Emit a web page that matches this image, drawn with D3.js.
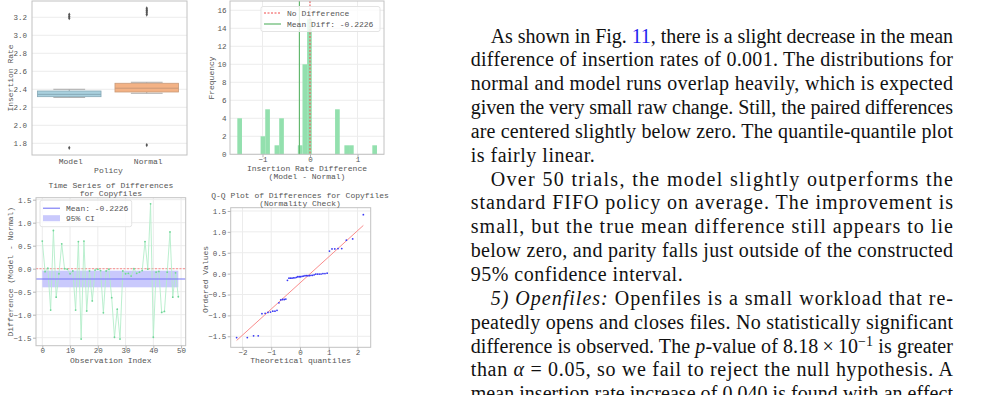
<!DOCTYPE html>
<html>
<head>
<meta charset="utf-8">
<script src="https://cdn.jsdelivr.net/npm/d3@7"></script>
<style>
  body { margin: 0; background: #fff; }
  svg { display: block; }
</style>
</head>
<body>
<div id="page"></div>
<script>
// box plot summary (insertion rate per policy)
var policies = ["Model", "Normal"];
var boxQ1 = [2.318, 2.370];
var boxMedian = [2.344, 2.412];
var boxQ3 = [2.381, 2.467];
var whiskerLow = [2.310, 2.356];
var whiskerHigh = [2.400, 2.478];
var outliers = [[3.19, 3.21, 3.23, 1.75], [3.23, 3.25, 3.27, 3.28, 3.30, 1.78]];

// paired differences (Model - Normal), one per trial
var diffs = [0.60, -0.065, 0.01, -0.90, 0.83, -0.62, -0.11, 0.54, 0.00, -0.01,
             -0.11, -0.05, -0.90, 0.59, -1.53, 0.60, -0.92, -0.05, -0.70, -0.03,
             -0.01, -0.04, -0.96, -0.05, -0.01, -0.63, -1.49, -0.88, -1.53, -0.05,
             -0.11, -0.10, -0.16, 0.00, -0.10, -0.075, -0.04, 0.59, -0.01, 1.41,
             -1.49, -0.075, -0.06, -0.95, -0.93, -0.075, 0.80, -0.62, -0.09, -0.61];
var meanDiff = -0.2226;
var ciLow = -0.405, ciHigh = -0.043;
var histBins = 30;

var boxTicks = [1.8, 2.0, 2.2, 2.4, 2.6, 2.8, 3.0, 3.2];
var histXTicks = [-1, 0, 1];
var histYTicks = [0, 2, 4, 6, 8, 10, 12, 14, 16];
var tsXTicks = [0, 10, 20, 30, 40, 50];
var diffTicks = [-1.5, -1.0, -0.5, 0.0, 0.5, 1.0, 1.5];
var qqXTicks = [-2, -1, 0, 1, 2];

var mono = "'Liberation Mono', 'Courier New', monospace";
var fs = 8, tickFs = 7.5;
var green = "#93e0ae";

var svg = d3.select("#page").append("svg")
    .attr("width", 982)
    .attr("height", 395);

function panel(left, top) {
    return svg.append("g").attr("transform", "translate(" + left + "," + top + ")");
}

function styleAxis(sel) {
    sel.select(".domain").remove();
    sel.selectAll(".tick line").attr("stroke", "#b5b5b5");
    sel.selectAll(".tick text")
       .attr("font-family", mono)
       .attr("font-size", tickFs)
       .attr("fill", "#555");
}

function grid(g, x, y, w, h, xTicks, yTicks) {
    g.selectAll(".gy").data(yTicks).enter().append("line")
        .attr("x1", 0).attr("x2", w)
        .attr("y1", function(d) { return y(d); })
        .attr("y2", function(d) { return y(d); })
        .attr("stroke", "#ececec");
    if (xTicks) {
        g.selectAll(".gx").data(xTicks).enter().append("line")
            .attr("y1", 0).attr("y2", h)
            .attr("x1", function(d) { return x(d); })
            .attr("x2", function(d) { return x(d); })
            .attr("stroke", "#ececec");
    }
}

function axes(g, w, h, xAxis, yAxis) {
    g.append("rect")
        .attr("width", w).attr("height", h)
        .attr("fill", "none")
        .attr("stroke", "#c2c2c2");
    g.append("g").attr("transform", "translate(0," + h + ")")
        .call(xAxis).call(styleAxis)
        .selectAll(".tick text").attr("dy", "0.58em");
    g.append("g").call(yAxis).call(styleAxis);
}

function label(g, txt, x, y, rotate) {
    var t = g.append("text")
        .attr("font-family", mono)
        .attr("font-size", fs)
        .attr("fill", "#555")
        .attr("text-anchor", "middle")
        .text(txt);
    if (rotate) {
        t.attr("transform", "translate(" + x + "," + y + ") rotate(-90)");
    } else {
        t.attr("x", x).attr("y", y);
    }
    return t;
}

var fmt1 = d3.format(".1f");

// ---------- box plot ----------
var bw = 155, bh = 154;
var g1 = panel(32, 1);
var xBox = d3.scaleBand().domain(policies).range([0, bw]);
var yBox = d3.scaleLinear().domain([1.670, 3.381]).range([bh, 0]);
var boxFill = ["#a9d0de", "#f3b285"];
var boxEdge = ["#86a9b6", "#c99a78"];

grid(g1, null, yBox, bw, bh, null, boxTicks);

policies.forEach(function(p, i) {
    var cx = xBox(p) + xBox.bandwidth() / 2 - 1.5;
    var half = xBox.bandwidth() * 0.41;
    g1.append("line")
        .attr("x1", cx).attr("x2", cx)
        .attr("y1", yBox(boxQ3[i])).attr("y2", yBox(whiskerHigh[i]))
        .attr("stroke", "#aaa");
    g1.append("line")
        .attr("x1", cx).attr("x2", cx)
        .attr("y1", yBox(boxQ1[i])).attr("y2", yBox(whiskerLow[i]))
        .attr("stroke", "#aaa");
    [whiskerHigh[i], whiskerLow[i]].forEach(function(v) {
        g1.append("line")
            .attr("x1", cx - half / 2).attr("x2", cx + half / 2)
            .attr("y1", yBox(v)).attr("y2", yBox(v))
            .attr("stroke", "#aaa");
    });
    g1.append("rect")
        .attr("x", cx - half)
        .attr("y", yBox(boxQ3[i]))
        .attr("width", half * 2)
        .attr("height", yBox(boxQ1[i]) - yBox(boxQ3[i]))
        .attr("fill", boxFill[i])
        .attr("stroke", boxEdge[i])
        .attr("stroke-width", 0.8);
    g1.append("line")
        .attr("x1", cx - half).attr("x2", cx + half)
        .attr("y1", yBox(boxMedian[i])).attr("y2", yBox(boxMedian[i]))
        .attr("stroke", boxEdge[i]);
    g1.selectAll(".out" + i)
        .data(outliers[i])
        .enter()
        .append("path")
        .attr("d", d3.symbol(d3.symbolDiamond, 5))
        .attr("transform", function(d) { return "translate(" + cx + "," + yBox(d) + ")"; })
        .attr("fill", "#555");
});

axes(g1, bw, bh,
     d3.axisBottom(xBox).tickSize(0).tickPadding(4),
     d3.axisLeft(yBox).tickValues(boxTicks).tickFormat(fmt1).tickSize(0).tickPadding(5));
g1.selectAll(".tick text").filter(function(d) { return typeof d === "string"; })
    .attr("font-size", fs);
label(g1, "Policy", bw / 2 - 1, 171.5);
label(g1, "Insertion Rate", -19.5, 77, true);

// ---------- histogram ----------
var hw = 154, hh = 153.3;
var g2 = panel(230, 1);
var xHist = d3.scaleLinear().domain([-1.684, 1.558]).range([0, hw]);
var yHist = d3.scaleLinear().domain([0, 17.03]).range([hh, 0]);
var ext = d3.extent(diffs);
var thresholds = d3.range(1, histBins).map(function(i) {
    return ext[0] + i * (ext[1] - ext[0]) / histBins;
});
var bins = d3.bin().domain(ext).thresholds(thresholds)(diffs);

grid(g2, xHist, yHist, hw, hh, histXTicks, histYTicks);

g2.selectAll(".bar")
    .data(bins.filter(function(b) { return b.length > 0; }))
    .enter()
    .append("rect")
    .attr("x", function(b) { return xHist(b.x0); })
    .attr("width", function(b) { return xHist(b.x1) - xHist(b.x0); })
    .attr("y", function(b) { return yHist(b.length); })
    .attr("height", function(b) { return hh - yHist(b.length); })
    .attr("fill", green);

g2.append("line")
    .attr("x1", xHist(0)).attr("x2", xHist(0))
    .attr("y1", 0).attr("y2", hh)
    .attr("stroke", "#f04a4a")
    .attr("stroke-dasharray", "2,1.5");
g2.append("line")
    .attr("x1", xHist(meanDiff)).attr("x2", xHist(meanDiff))
    .attr("y1", 0).attr("y2", hh)
    .attr("stroke", "#63b86e")
    .attr("stroke-width", 1.2);

axes(g2, hw, hh,
     d3.axisBottom(xHist).tickValues(histXTicks).tickFormat(d3.format("d")).tickSize(3).tickPadding(0),
     d3.axisLeft(yHist).tickValues(histYTicks).tickSize(0).tickPadding(3.5));

var leg2 = g2.append("g").attr("transform", "translate(31,5.5)");
leg2.append("rect")
    .attr("width", 119).attr("height", 25).attr("rx", 2)
    .attr("fill", "#fff").attr("fill-opacity", 0.8)
    .attr("stroke", "#e4e4e4");
leg2.append("line").attr("x1", 3).attr("x2", 20).attr("y1", 6.5).attr("y2", 6.5)
    .attr("stroke", "#f04a4a").attr("stroke-dasharray", "2,1.5");
leg2.append("line").attr("x1", 3).attr("x2", 20).attr("y1", 17.5).attr("y2", 17.5)
    .attr("stroke", "#63b86e").attr("stroke-width", 1.2);
leg2.append("text").attr("x", 26).attr("y", 9.3)
    .attr("font-family", mono).attr("font-size", fs).attr("fill", "#555")
    .text("No Difference");
leg2.append("text").attr("x", 26).attr("y", 20.3)
    .attr("font-family", mono).attr("font-size", fs).attr("fill", "#555")
    .text("Mean Diff: " + meanDiff.toFixed(4));

label(g2, "Insertion Rate Difference", hw / 2, 170);
label(g2, "(Model - Normal)", hw / 2, 178);
label(g2, "Frequency", -16.5, 77, true);

// ---------- time series ----------
var tw = 149.7, th = 148;
var g3 = panel(36, 197.7);
var xTs = d3.scaleLinear().domain([-2.27, 51.66]).range([0, tw]);
var yDiff = d3.scaleLinear().domain([-1.674, 1.543]).range([th, 0]);

grid(g3, xTs, yDiff, tw, th, tsXTicks, diffTicks);

g3.append("rect")
    .attr("x", xTs(0))
    .attr("width", xTs(diffs.length - 1) - xTs(0))
    .attr("y", yDiff(ciHigh))
    .attr("height", yDiff(ciLow) - yDiff(ciHigh))
    .attr("fill", "#c9c9fc");
g3.append("line")
    .attr("x1", 0).attr("x2", tw)
    .attr("y1", yDiff(0)).attr("y2", yDiff(0))
    .attr("stroke", "#f7a0a0")
    .attr("stroke-width", 1.3)
    .attr("stroke-dasharray", "2,1.5");
g3.append("path")
    .datum(diffs)
    .attr("d", d3.line()
        .x(function(d, i) { return xTs(i); })
        .y(function(d) { return yDiff(d); }))
    .attr("fill", "none")
    .attr("stroke", "#b3edca")
    .attr("stroke-width", 0.9);
g3.selectAll(".pt")
    .data(diffs)
    .enter()
    .append("circle")
    .attr("cx", function(d, i) { return xTs(i); })
    .attr("cy", function(d) { return yDiff(d); })
    .attr("r", 0.9)
    .attr("fill", "#6fd597");
g3.append("line")
    .attr("x1", 0).attr("x2", tw)
    .attr("y1", yDiff(meanDiff)).attr("y2", yDiff(meanDiff))
    .attr("stroke", "#7575f5")
    .attr("stroke-width", 1.1);

axes(g3, tw, th,
     d3.axisBottom(xTs).tickValues(tsXTicks).tickSize(3).tickPadding(0),
     d3.axisLeft(yDiff).tickValues(diffTicks).tickFormat(fmt1).tickSize(3).tickPadding(1.5));

var leg3 = g3.append("g").attr("transform", "translate(4,2.5)");
leg3.append("rect")
    .attr("width", 91.7).attr("height", 26.5).attr("rx", 2)
    .attr("fill", "#fff").attr("fill-opacity", 0.8)
    .attr("stroke", "#e4e4e4");
leg3.append("line").attr("x1", 3).attr("x2", 20).attr("y1", 8).attr("y2", 8)
    .attr("stroke", "#7575f5").attr("stroke-width", 1.1);
leg3.append("rect").attr("x", 3).attr("y", 15).attr("width", 17).attr("height", 6)
    .attr("fill", "#c9c9fc");
leg3.append("text").attr("x", 26).attr("y", 11)
    .attr("font-family", mono).attr("font-size", fs).attr("fill", "#555")
    .text("Mean: " + meanDiff.toFixed(4));
leg3.append("text").attr("x", 26).attr("y", 21)
    .attr("font-family", mono).attr("font-size", fs).attr("fill", "#555")
    .text("95% CI");

label(g3, "Time Series of Differences", tw / 2, -10);
label(g3, "for Copyfiles", tw / 2, -2);
label(g3, "Observation Index", tw / 2, 165);
label(g3, "Difference (Model - Normal)", -23.5, th / 2, true);

// ---------- Q-Q plot ----------
function normInv(p) {
    var a = [-3.969683028665376e+01, 2.209460984245205e+02, -2.759285104469687e+02,
             1.383577518672690e+02, -3.066479806614716e+01, 2.506628277459239e+00];
    var b = [-5.447609879822406e+01, 1.615858368580409e+02, -1.556989798598866e+02,
             6.680131188771972e+01, -1.328068155288572e+01];
    var c = [-7.784894002430293e-03, -3.223964580411365e-01, -2.400758277161838e+00,
             -2.549732539343734e+00, 4.374664141464968e+00, 2.938163982698783e+00];
    var d = [7.784695709041462e-03, 3.224671290700398e-01, 2.445134137142996e+00,
             3.754408661907416e+00];
    var q, r;
    if (p < 0.02425) {
        q = Math.sqrt(-2 * Math.log(p));
        return (((((c[0]*q+c[1])*q+c[2])*q+c[3])*q+c[4])*q+c[5]) / ((((d[0]*q+d[1])*q+d[2])*q+d[3])*q+1);
    }
    if (p > 1 - 0.02425) {
        q = Math.sqrt(-2 * Math.log(1 - p));
        return -(((((c[0]*q+c[1])*q+c[2])*q+c[3])*q+c[4])*q+c[5]) / ((((d[0]*q+d[1])*q+d[2])*q+d[3])*q+1);
    }
    q = p - 0.5;
    r = q * q;
    return (((((a[0]*r+a[1])*r+a[2])*r+a[3])*r+a[4])*r+a[5])*q / (((((b[0]*r+b[1])*r+b[2])*r+b[3])*r+b[4])*r+1);
}

var n = diffs.length;
var ordered = diffs.slice().sort(d3.ascending);
var theo = ordered.map(function(v, i) {
    var m;
    if (i === n - 1) m = Math.pow(0.5, 1 / n);
    else if (i === 0) m = 1 - Math.pow(0.5, 1 / n);
    else m = (i + 1 - 0.3175) / (n + 0.365);
    return normInv(m);
});
var mx = d3.mean(theo), my = d3.mean(ordered);
var slope = d3.sum(theo, function(t, i) { return (t - mx) * (ordered[i] - my); }) /
            d3.sum(theo, function(t) { return (t - mx) * (t - mx); });
var icpt = my - slope * mx;

var qw = 140, qh = 139.6;
var g4 = panel(230.7, 207.7);
var xQ = d3.scaleLinear().domain([-2.41, 2.46]).range([0, qw]);
var yQ = d3.scaleLinear().domain([-1.764, 1.578]).range([qh, 0]);

grid(g4, xQ, yQ, qw, qh, qqXTicks, diffTicks);

var ends = d3.extent(theo);
g4.append("line")
    .attr("x1", xQ(ends[0])).attr("x2", xQ(ends[1]))
    .attr("y1", yQ(icpt + slope * ends[0])).attr("y2", yQ(icpt + slope * ends[1]))
    .attr("stroke", "#f98c8c")
    .attr("stroke-width", 1);
g4.selectAll(".qp")
    .data(ordered)
    .enter()
    .append("circle")
    .attr("cx", function(d, i) { return xQ(theo[i]); })
    .attr("cy", function(d) { return yQ(d); })
    .attr("r", 0.9)
    .attr("fill", "#3a3af5");

axes(g4, qw, qh,
     d3.axisBottom(xQ).tickValues(qqXTicks).tickFormat(d3.format("d")).tickSize(3).tickPadding(0),
     d3.axisLeft(yQ).tickValues(diffTicks).tickFormat(fmt1).tickSize(3).tickPadding(1.5));

label(g4, "Q-Q Plot of Differences for Copyfiles", qw / 2 - 0.7, -10);
label(g4, "(Normality Check)", qw / 2 - 0.7, -2);
label(g4, "Theoretical quantiles", qw / 2, 155.5);
label(g4, "Ordered Values", -23, qh / 2 + 2, true);

// ---------- body text (right column) ----------
var textLeft = 470.7, textRight = 953, indent = 20;
var firstBaseline = 42.5, lineStep = 23.85;

var bodyLines = [
    { ind: true, just: true, parts: [["As shown in Fig. "], ["11", "ref"], [", there is a slight decrease in the mean"]] },
    { just: true, parts: [["difference of insertion rates of 0.001. The distributions for"]] },
    { just: true, parts: [["normal and model runs overlap heavily, which is expected"]] },
    { just: true, parts: [["given the very small raw change. Still, the paired differences"]] },
    { just: true, parts: [["are centered slightly below zero. The quantile-quantile plot"]] },
    { parts: [["is fairly linear."]] },
    { ind: true, just: true, parts: [["Over 50 trials, the model slightly outperforms the"]] },
    { just: true, parts: [["standard FIFO policy on average. The improvement is"]] },
    { just: true, parts: [["small, but the true mean difference still appears to lie"]] },
    { just: true, parts: [["below zero, and parity falls just outside of the constructed"]] },
    { parts: [["95% confidence interval."]] },
    { ind: true, just: true, parts: [["5) Openfiles:", "it"], [" Openfiles is a small workload that re-"]] },
    { just: true, parts: [["peatedly opens and closes files. No statistically significant"]] },
    { just: true, parts: [["difference is observed. The "], ["p", "it"], ["-value of 8.18\u2009\u00d7\u200910"], ["\u22121", "sup"], [" is greater"]] },
    { just: true, parts: [["than "], ["\u03b1", "it"], [" = 0.05, so we fail to reject the null hypothesis. A"]] },
    { just: true, parts: [["mean insertion rate increase of 0.040 is found with an effect"]] }
];

bodyLines.forEach(function(line, k) {
    var x0 = textLeft + (line.ind ? indent : 0);
    var t = svg.append("text")
        .attr("x", x0)
        .attr("y", firstBaseline + k * lineStep)
        .attr("font-family", "'Liberation Serif', 'Times New Roman', serif")
        .attr("font-size", 20)
        .attr("fill", "#111");
    if (line.just) {
        t.attr("textLength", textRight - x0).attr("lengthAdjust", "spacing");
    } else {
        t.attr("letter-spacing", 0.5);
    }
    line.parts.forEach(function(p) {
        var s = t.append("tspan").text(p[0]);
        if (p[1] === "ref") s.attr("fill", "#2323f0");
        if (p[1] === "it") s.attr("font-style", "italic");
        if (p[1] === "sup") s.attr("font-size", 14).attr("baseline-shift", "super");
    });
});
</script>
</body>
</html>
